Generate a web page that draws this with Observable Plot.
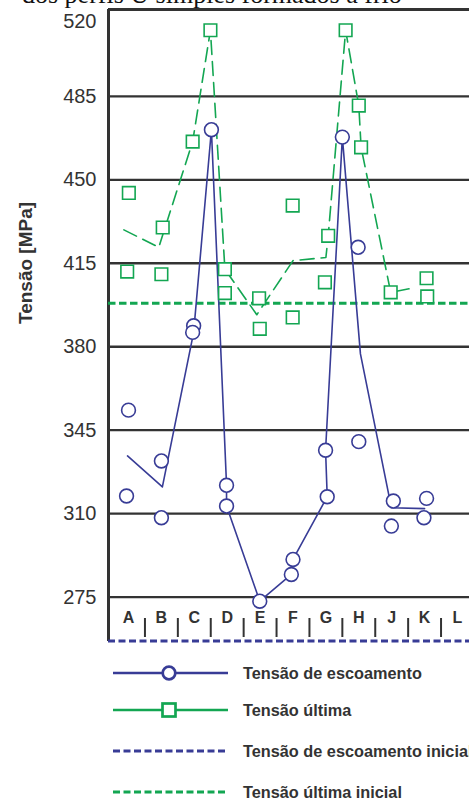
<!DOCTYPE html>
<html>
<head>
<meta charset="utf-8">
<script src="https://cdn.jsdelivr.net/npm/d3@7"></script>
<script src="https://cdn.jsdelivr.net/npm/@observablehq/plot@0.6"></script>
<style>
html, body { margin: 0; padding: 0; background: #fff; overflow: hidden; width: 469px; height: 800px; }
#wrap { position: relative; width: 469px; height: 800px; }
#chart { position: absolute; left: 0; top: 0; }
#overlay { position: absolute; left: 0; top: 0; pointer-events: none; }
</style>
</head>
<body>
<div id="wrap">
  <div id="chart"></div>
  <svg id="overlay" width="469" height="800"></svg>
</div>
<script>
// ---- data ----
const categories = ["A", "B", "C", "D", "E", "F", "G", "H", "J", "K", "L"];
const yTicks = [275, 310, 345, 380, 415, 450, 485, 520];

// Tensão de escoamento (yield) – individual specimens (x = category index + offset)
const yieldPosX = [0, -0.06, 1.0, 1.0, 1.98, 1.95, 2.52, 2.98, 2.98, 3.99, 5.0, 4.95, 5.99, 6.04, 6.5, 6.98, 7.0, 8.05, 7.99, 9.06, 8.98];
const yieldVal  = [353.4, 317.4, 332.1, 308.3, 388.8, 386.0, 471.0, 321.9, 313.2, 273.3, 290.8, 284.5, 336.6, 317.1, 467.9, 421.7, 340.2, 315.3, 304.8, 316.4, 308.3];

// Tensão última (ultimate) – individual specimens
const ultPosX = [0.01, -0.04, 1.04, 1.0, 1.95, 2.49, 2.93, 2.93, 3.97, 3.99, 4.99, 4.99, 6.07, 5.97, 6.6, 7.0, 7.07, 7.97, 9.06, 9.08];
const ultVal  = [444.5, 411.5, 430.0, 410.4, 466.0, 512.7, 412.5, 402.5, 400.3, 387.5, 439.2, 392.3, 426.5, 407.0, 512.7, 481.1, 463.6, 402.8, 408.7, 401.1];

// connecting lines
const yieldLineX   = [-0.03, 1.03, 1.98, 2.52, 2.98, 2.98, 3.99, 4.95, 5.0, 6.04, 5.99, 6.5, 7.05, 7.99, 9.0];
const yieldLineVal = [334.2, 321.2, 386.0, 471.0, 321.9, 313.2, 273.3, 284.5, 290.8, 317.1, 336.6, 467.9, 377.0, 312.5, 312.1];
const ultLineX   = [-0.14, 0.92, 1.95, 2.49, 2.93, 3.9, 5.0, 6.0, 6.07, 6.6, 7.0, 7.07, 7.97, 8.72];
const ultLineVal = [429.0, 421.7, 466.0, 512.7, 412.5, 393.4, 416.1, 417.4, 426.5, 512.7, 481.1, 463.6, 402.8, 404.8];

// initial reference levels
const initialYield = 256.6;
const initialUlt = 398.2;

// axis extents
const xMin = -0.608, xMax = 10.365;
const yMin = 256.4, yMax = 521.4;

const legendLabels = ["Tensão de escoamento", "Tensão última", "Tensão de escoamento inicial", "Tensão última inicial"];
const titleText = "dos perfis U simples formados a frio";
const yLabel = "Tensão [MPa]";

// ---- styles ----
const BLUE = "#383c96";
const GREEN = "#13a652";
const DARK = "#333333";

const yieldPts = yieldPosX.map((x, i) => ({x, v: yieldVal[i]}));
const ultPts = ultPosX.map((x, i) => ({x, v: ultVal[i]}));
const yieldLine = yieldLineX.map((x, i) => ({x, v: yieldLineVal[i]}));
const ultLine = ultLineX.map((x, i) => ({x, v: ultLineVal[i]}));

const chart = Plot.plot({
  width: 469,
  height: 644,
  marginTop: 9,
  marginBottom: 3,
  marginLeft: 108,
  marginRight: 0,
  x: {type: "linear", domain: [xMin, xMax], axis: null},
  y: {domain: [yMin, yMax], axis: null},
  style: {fontFamily: "'Liberation Sans', Arial, Helvetica, sans-serif", color: DARK, background: "transparent", overflow: "visible"},
  marks: [
    Plot.ruleY(yTicks.slice(0, -1), {stroke: DARK, strokeWidth: 2.3}),
    Plot.ruleY([yMax], {stroke: DARK, strokeWidth: 3}),
    Plot.ruleX([xMin], {stroke: DARK, strokeWidth: 3}),
    Plot.axisY({ticks: yTicks.slice(0, -1), tickSize: 0, tickPadding: 12, fontSize: 20, fill: DARK, label: null}),
    Plot.axisY({ticks: yTicks.slice(-1), tickSize: 0, tickPadding: 12, fontSize: 20, fill: DARK, label: null, dy: 9}),
    Plot.ruleY([initialUlt], {stroke: GREEN, strokeWidth: 3, strokeDasharray: "7.5,3.5"}),
    Plot.ruleY([initialYield], {stroke: BLUE, strokeWidth: 3, strokeDasharray: "7,3.5"}),
    Plot.text(categories, {x: (d, i) => i, text: d => d, frameAnchor: "bottom", dy: -19, fontSize: 16, fontWeight: "bold", fill: DARK}),
    Plot.ruleX(d3.range(categories.length - 1).map(i => i + 0.5), {stroke: DARK, strokeWidth: 2, insetTop: 609, insetBottom: 4}),
    Plot.line(ultLine, {x: "x", y: "v", stroke: GREEN, strokeWidth: 1.6, strokeDasharray: "14,7", curve: "linear"}),
    Plot.line(yieldLine, {x: "x", y: "v", stroke: BLUE, strokeWidth: 1.6, curve: "linear"}),
    Plot.dot(ultPts, {x: "x", y: "v", symbol: "square", r: 7.1, stroke: GREEN, fill: "white", strokeWidth: 1.6}),
    Plot.dot(yieldPts, {x: "x", y: "v", symbol: "circle", r: 6.9, stroke: BLUE, fill: "white", strokeWidth: 1.6})
  ]
});
document.getElementById("chart").appendChild(chart);

// ---- overlay: title fragment, y label, legend ----
const ov = d3.select("#overlay");
ov.append("text")
  .attr("x", 22).attr("y", 3)
  .attr("font-family", "'Liberation Serif', 'Times New Roman', serif")
  .attr("font-size", 26).attr("fill", "#111")
  .text(titleText);

ov.append("text")
  .attr("transform", "translate(32,263) rotate(-90)")
  .attr("text-anchor", "middle")
  .attr("font-family", "'Liberation Sans', Arial, sans-serif")
  .attr("font-size", 19).attr("font-weight", "bold").attr("fill", DARK)
  .text(yLabel);

const rowY = [673, 710, 751, 792];
const kinds = [
  {color: BLUE, type: "circle"},
  {color: GREEN, type: "square"},
  {color: BLUE, type: "dash"},
  {color: GREEN, type: "dash"}
];
legendLabels.forEach((lab, i) => {
  const y = rowY[i], k = kinds[i];
  const g = ov.append("g");
  if (k.type === "dash") {
    g.append("line").attr("x1", 113).attr("x2", 228).attr("y1", y).attr("y2", y)
      .attr("stroke", k.color).attr("stroke-width", 3).attr("stroke-dasharray", "7,3.5");
  } else {
    g.append("line").attr("x1", 113).attr("x2", 228).attr("y1", y).attr("y2", y)
      .attr("stroke", k.color).attr("stroke-width", 2.7);
    if (k.type === "circle") {
      g.append("circle").attr("cx", 169).attr("cy", y).attr("r", 6.3)
        .attr("fill", "white").attr("stroke", k.color).attr("stroke-width", 2.7);
    } else {
      g.append("rect").attr("x", 162.5).attr("y", y - 6.5).attr("width", 13).attr("height", 13)
        .attr("fill", "white").attr("stroke", k.color).attr("stroke-width", 2.7);
    }
  }
  g.append("text").attr("x", 243).attr("y", y).attr("dy", "0.35em")
    .attr("font-family", "'Liberation Sans', Arial, sans-serif")
    .attr("font-size", 16.3).attr("font-weight", "bold").attr("fill", DARK)
    .text(lab);
});
</script>
</body>
</html>
